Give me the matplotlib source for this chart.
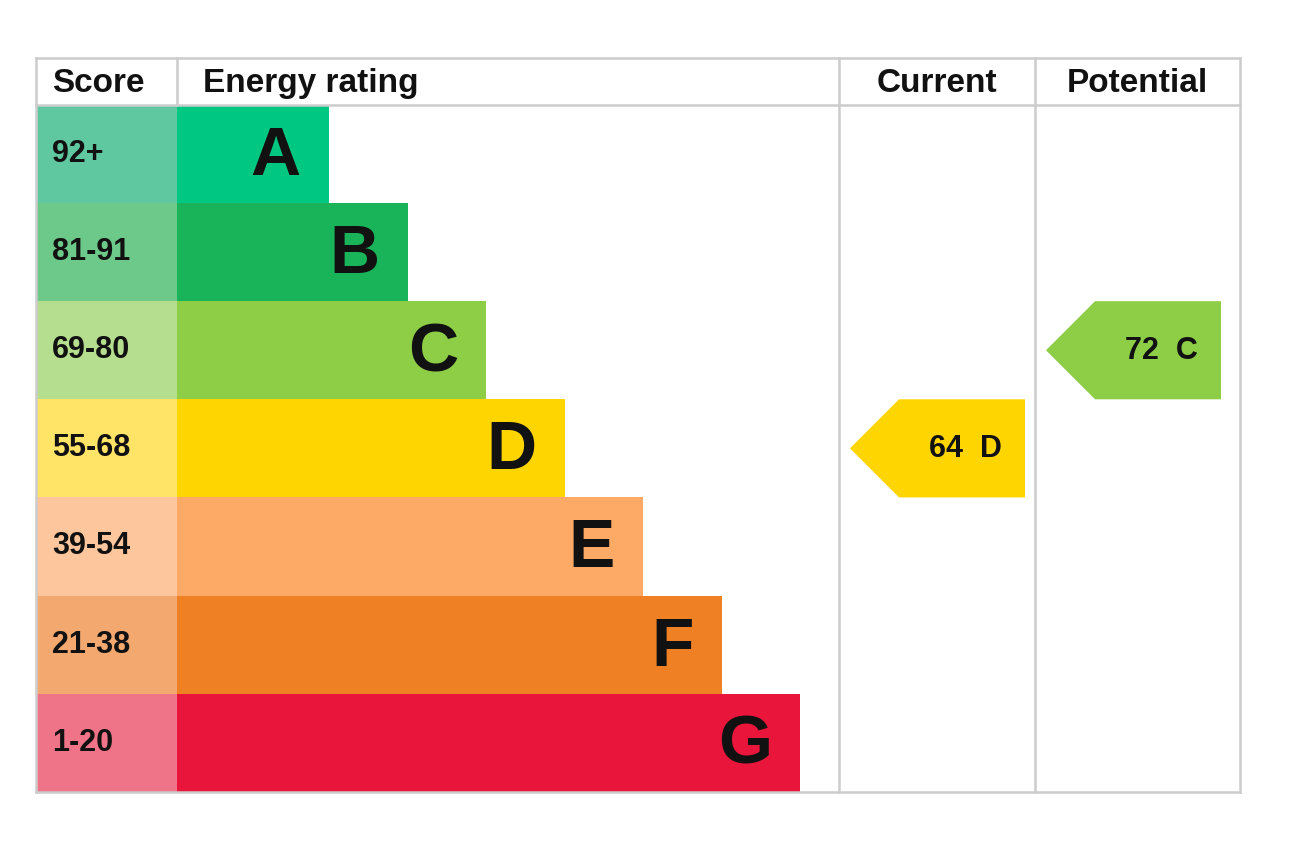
import matplotlib
matplotlib.use("Agg")
import matplotlib.pyplot as plt
from matplotlib.patches import Rectangle, Polygon

bands = ["A", "B", "C", "D", "E", "F", "G"]
scores = ["92+", "81-91", "69-80", "55-68", "39-54", "21-38", "1-20"]
bar_colors = ["#00c781", "#19b459", "#8dce46", "#ffd500", "#fcaa65", "#ef8023", "#e9153b"]
score_colors = ["#5fc8a0", "#6cc98a", "#b5df8e", "#ffe467", "#fdc69c", "#f3a870", "#f07488"]
current_value, current_band = 64, "D"
potential_value, potential_band = 72, "C"

plt.rcParams['font.family'] = ['Liberation Sans', 'DejaVu Sans']
fig = plt.figure(figsize=(12.96, 8.58), dpi=100)
ax = fig.add_axes([0, 0, 1, 1])
ax.set_xlim(0, 1296); ax.set_ylim(858, 0); ax.axis('off')

L, S, BAR0, C0, P0, R = 36, 177, 177, 839, 1035, 1240
TOP, HB, ROWH = 58, 105, 98.1
BOT = HB + ROWH * len(bands)
grid = "#cccccc"

for i, (b, s) in enumerate(zip(bands, scores)):
    y = HB + i * ROWH
    ax.add_patch(Rectangle((L, y), S - L, ROWH, color=score_colors[i], lw=0))
    right = 329 + 78.5 * i
    ax.add_patch(Rectangle((BAR0, y), right - BAR0, ROWH, color=bar_colors[i], lw=0))
    ax.text(52, y + ROWH / 2, s, fontsize=22, fontweight='bold', va='center', ha='left', color='#111111')
    ax.text(right - 28, y + ROWH / 2 + 3, b, fontsize=50, fontweight='bold', va='center', ha='right', color='#111111')

def arrow(x0, x1, band, value):
    i = bands.index(band)
    y = HB + i * ROWH
    h = ROWH
    pts = [(x0, y + h / 2), (x0 + h / 2, y), (x1, y), (x1, y + h), (x0 + h / 2, y + h)]
    ax.add_patch(Polygon(pts, closed=True, color=bar_colors[i], lw=0))
    ax.text((x0 + x1) / 2 + 28, y + h / 2 + 1, f"{value}  {band}", fontsize=22, fontweight='bold',
            va='center', ha='center', color='#111111')

arrow(850, 1025, current_band, current_value)
arrow(1046, 1221, potential_band, potential_value)

lw = 1.8
for yy in (TOP, HB, BOT):
    ax.plot([L, R], [yy, yy], color=grid, lw=lw)
for xx in (L, C0, P0, R):
    ax.plot([xx, xx], [TOP, BOT], color=grid, lw=lw)
ax.plot([S, S], [TOP, HB], color=grid, lw=lw)

hy = (TOP + HB) / 2 + 2
ax.text(52, hy, "Score", fontsize=24, fontweight='bold', va='center', ha='left', color='#111111')
ax.text(203, hy, "Energy rating", fontsize=24, fontweight='bold', va='center', ha='left', color='#111111')
ax.text((C0 + P0) / 2, hy, "Current", fontsize=24, fontweight='bold', va='center', ha='center', color='#111111')
ax.text((P0 + R) / 2, hy, "Potential", fontsize=24, fontweight='bold', va='center', ha='center', color='#111111')

fig.savefig("out.png", dpi=100, facecolor='white')
